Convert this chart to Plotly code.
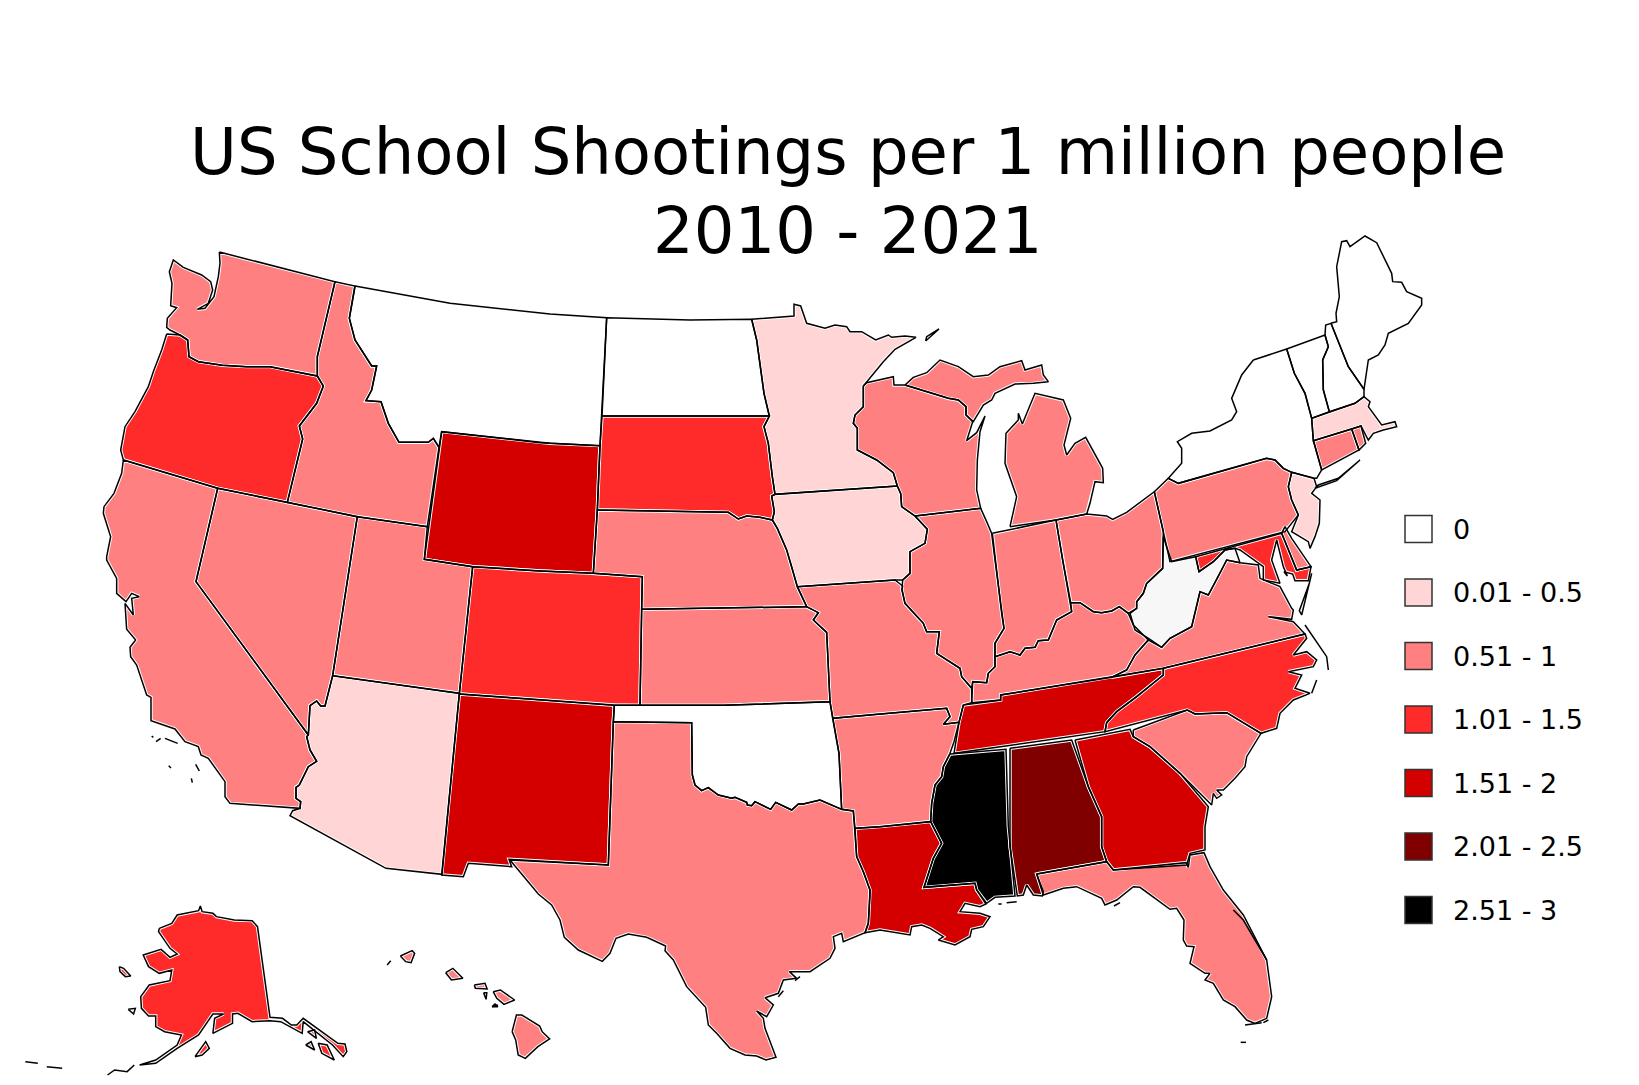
import plotly.graph_objects as go

# the usa topojson comes from the plotly cdn, so the states are drawn as traced outlines
# === DATA ===
states = ["WA", "OR", "CA", "NV", "ID", "MT", "WY", "UT", "AZ", "CO", "NM", "ND", "SD", "NE", "KS", "OK", "TX",
          "MN", "IA", "MO", "AR", "LA", "WI", "IL", "MS", "MI", "IN", "OH", "KY", "TN", "AL", "GA", "FL", "SC",
          "NC", "VA", "WV", "PA", "MD", "DE", "NJ", "NY", "CT", "RI", "MA", "VT", "NH", "ME", "AK", "HI"]
rates = [0.75, 1.25, 0.75, 0.75, 0.75, 0, 1.75, 0.75, 0.25, 1.25, 1.75, 0, 1.25, 0.75, 0.75, 0, 0.75,
         0.25, 0.25, 0.75, 0.75, 1.75, 0.75, 0.75, 2.75, 0.75, 0.75, 0.75, 0.75, 1.75, 2.25, 1.75, 0.75, 0.75,
         1.25, 0.75, None, 0.75, 1.25, 0.75, 0.25, 0, 0.75, 0.75, 0.25, 0, 0, 0, 1.25, 0.75]

bin_labels = ["0", "0.01 - 0.5", "0.51 - 1", "1.01 - 1.5", "1.51 - 2", "2.01 - 2.5", "2.51 - 3"]
bin_tops = [0, 0.5, 1, 1.5, 2, 2.5, 3]
bin_colors = ["#ffffff", "#ffd5d5", "#ff8080", "#ff2a2a", "#d40000", "#800000", "#000000"]
no_data_color = "#f7f7f7"

title_lines = ["US School Shootings per 1 million people", "2010 - 2021"]

# origin and scale of the crops the outlines were traced on
NW = (90, 240, 3, 3)
SW = (90, 560, 3, 3)
NC = (540, 280, 3, 3)
SC = (440, 600, 3, 3)
NE = (960, 230, 3, 3)
SE = (880, 560, 3, 3)
TX = (500, 820, 3, 3)
FL = (880, 780, 3, 3)
MID = (1050, 370, 3, 3)
AKC = (20, 890, 2.8, 3)


def t(crop, pts):
    return [(crop[0] + x / crop[2], crop[1] + y / crop[3]) for x, y in pts]


outlines = {}
outlines["WA"] = [t(NW, [(388, 36), (735, 125), (682, 350), (682, 408), (540, 380), (470, 380), (397, 376), (325, 365),
                         (297, 350), (293, 300), (270, 285), (240, 270), (230, 262), (232, 235), (260, 203), (242, 197),
                         (246, 130), (238, 95), (250, 60), (280, 82), (335, 105), (362, 125), (368, 150), (355, 190),
                         (322, 208), (345, 205), (372, 170), (385, 110), (390, 70)])]
outlines["OR"] = [t(NW, [(230, 282), (270, 285), (293, 300), (297, 350), (325, 365), (397, 376), (470, 380), (540, 380),
                         (682, 408), (700, 438), (680, 490), (628, 558), (638, 597), (592, 787), (383, 745), (100, 660),
                         (92, 630), (105, 560), (135, 515), (175, 440), (190, 395), (215, 330)])]
outlines["ID"] = [t(NW, [(735, 125), (795, 138), (778, 235), (795, 300), (845, 378), (860, 378), (845, 450), (828, 482),
                         (873, 485), (895, 550), (927, 607), (1015, 607), (1030, 595), (1047, 622), (1012, 860),
                         (802, 830), (592, 787), (638, 597), (628, 558), (680, 490), (700, 438), (682, 408), (682, 350)])]
outlines["MT"] = [t(NW, [(795, 138), (1080, 190), (1380, 222)]) + t(NC, [(200, 113), (180, 497), (0, 488)])
                  + t(NW, [(1055, 575), (1047, 622), (1030, 595), (1015, 607), (927, 607), (895, 550), (873, 485),
                           (828, 482), (845, 450), (860, 378), (845, 378), (795, 300), (778, 235)])]
outlines["ND"] = [t(NC, [(200, 113), (450, 120), (635, 118), (650, 180), (672, 340), (688, 408), (186, 408)])]
outlines["SD"] = [t(NC, [(186, 408), (688, 408), (672, 440), (685, 490), (697, 590), (705, 643), (695, 648), (703, 695),
                         (697, 720), (660, 712), (620, 708), (595, 717), (565, 697), (172, 690), (180, 497)])]
outlines["WY"] = [t(NW, [(1055, 575), (1380, 610)]) + t(NC, [(180, 497), (172, 690), (160, 880), (0, 873)])
                  + t(NW, [(1148, 980), (1003, 958)])]
outlines["CO"] = [t(NW, [(1148, 980)]) + t(NC, [(0, 873), (160, 880), (307, 890)])
                  + t(SC, [(605, 28), (600, 316), (520, 315), (58, 282)])]
outlines["NM"] = [t(SC, [(58, 282), (523, 316), (520, 365), (505, 795), (207, 778), (215, 800), (85, 790), (70, 830), (5, 825)])]
outlines["UT"] = [t(NW, [(802, 830), (1012, 860), (1003, 958), (1148, 980)]) + t(SW, [(1108, 400), (728, 347)])]
outlines["NV"] = [t(NW, [(383, 745), (592, 787), (802, 830)])
                  + t(SW, [(728, 347), (705, 438), (692, 438), (680, 423), (660, 437), (655, 525), (318, 65)])]
outlines["AZ"] = [t(SW, [(728, 347), (1108, 400), (1056, 943), (888, 925), (600, 767), (608, 752), (630, 745), (632, 725),
                         (618, 715), (618, 682), (628, 675), (655, 620), (680, 604), (660, 570), (650, 530), (655, 525),
                         (660, 437), (680, 423), (692, 438), (705, 438)])]
outlines["CA"] = [t(NW, [(100, 660), (383, 745)])
                  + t(SW, [(318, 65), (655, 525), (650, 530), (660, 570), (680, 604), (655, 620), (628, 675), (618, 682),
                           (618, 715), (632, 725), (630, 745), (420, 730), (405, 710), (405, 665), (355, 595), (333, 585),
                           (325, 560), (285, 545), (255, 507), (183, 482), (183, 412), (170, 405), (140, 315), (122, 290),
                           (120, 262), (137, 240), (110, 208), (105, 130), (130, 165), (125, 115), (148, 110), (125, 100),
                           (108, 125), (80, 100), (80, 55), (50, 0)])
                  + t(NW, [(50, 950), (62, 890), (40, 820), (42, 800), (72, 760), (95, 700)])]
outlines["MN"] = [t(NC, [(635, 118), (762, 108), (762, 73), (782, 78), (800, 130), (855, 145), (885, 135), (920, 140),
                         (930, 155), (965, 155), (1007, 180), (1045, 165), (1055, 172), (1095, 168), (1128, 172),
                         (1065, 208), (1030, 245), (980, 308), (970, 318), (970, 380), (945, 405), (940, 430), (952, 445),
                         (952, 510), (1010, 540), (1060, 578), (1072, 618), (705, 643), (697, 590), (685, 490), (672, 440),
                         (688, 408), (672, 340), (650, 180)])]
outlines["IA"] = [t(NC, [(695, 648), (705, 643), (1072, 618), (1082, 640), (1085, 680), (1125, 708), (1162, 748), (1155, 790),
                         (1110, 815), (1110, 880), (1088, 900), (1065, 900), (772, 920), (755, 860), (740, 810), (712, 745),
                         (697, 720), (703, 695)])]
outlines["NE"] = [t(NC, [(172, 690), (565, 697), (595, 717), (620, 708), (660, 712), (697, 720), (712, 745), (740, 810),
                         (755, 860), (772, 920)])
                  + t(SC, [(1100, 20), (605, 28)]) + t(NC, [(307, 890), (160, 880)])]
outlines["KS"] = [t(SC, [(605, 28), (1100, 20), (1135, 38), (1120, 60), (1160, 97), (1170, 305), (850, 316), (600, 316)])]
oklahoma_south = [(757, 525), (765, 555), (785, 572), (805, 563), (835, 585), (875, 595), (885, 592), (920, 607), (922, 615),
                  (935, 617), (945, 605), (992, 628), (1007, 607), (1055, 630), (1075, 612), (1090, 612), (1140, 600),
                  (1205, 628)]
outlines["OK"] = [t(SC, [(523, 316), (600, 316), (850, 316), (1170, 305), (1178, 355), (1197, 460)]
                    + oklahoma_south[::-1] + [(755, 368), (520, 365)])]
outlines["TX"] = [t(SC, [(520, 365), (755, 368)] + oklahoma_south + [(1240, 633), (1250, 770), (1270, 815), (1290, 870)])
                  + t(TX, [(1110, 225), (1105, 310), (1095, 338), (1030, 365), (1025, 340), (1000, 350), (1005, 385),
                           (990, 415), (930, 455), (868, 455), (890, 475), (850, 480), (835, 520), (795, 533), (820, 555),
                           (800, 590), (770, 573), (790, 595), (795, 625), (828, 712), (798, 720), (770, 708), (735, 705),
                           (690, 685), (650, 640), (625, 615), (617, 562), (560, 500), (520, 420), (495, 392), (497, 378),
                           (440, 352), (385, 342), (348, 355), (330, 400), (307, 424), (235, 390), (193, 352), (180, 300),
                           (155, 255), (115, 222), (30, 120), (325, 135)])]
outlines["MO"] = [t(NC, [(772, 920), (1065, 900), (1088, 918)])
                  + t(SE, [(66, 90), (75, 130), (130, 190), (140, 215), (178, 215), (170, 280), (240, 325), (245, 350),
                           (275, 385), (275, 428), (250, 435), (237, 487), (190, 493), (210, 470), (200, 445), (0, 462)])
                  + t(SC, [(1178, 355), (1170, 305), (1160, 97), (1120, 60), (1135, 38), (1100, 20)])]
outlines["AR"] = [t(SC, [(1178, 355)])
                  + t(SE, [(0, 462), (200, 445), (210, 470), (190, 493), (237, 487), (222, 545), (210, 580), (190, 620),
                           (185, 650), (165, 675), (155, 730), (152, 785), (0, 800)])
                  + t(SC, [(1245, 685), (1240, 633), (1205, 628), (1197, 460)])]
outlines["LA"] = [t(SC, [(1245, 685)])
                  + t(FL, [(0, 140), (152, 125), (165, 150), (185, 190), (160, 235), (132, 322), (285, 310), (290, 330),
                           (318, 372), (300, 380), (255, 370), (240, 395), (300, 400), (330, 410), (310, 440), (275, 448),
                           (270, 470), (225, 495), (175, 480), (190, 470), (150, 445), (125, 435), (95, 440), (90, 465),
                           (0, 450)])
                  + t(TX, [(1095, 338), (1105, 310), (1110, 225)]) + t(SC, [(1290, 870), (1270, 815), (1250, 770)])]
outlines["MS"] = [t(SE, [(210, 582), (378, 568), (385, 800)])
                  + t(FL, [(405, 348), (345, 352), (320, 370), (290, 330), (285, 310), (132, 322), (160, 235), (185, 190),
                           (165, 150), (152, 125)])
                  + t(SE, [(155, 730), (165, 675), (185, 650), (190, 620)])]
outlines["AL"] = [t(SE, [(390, 565), (575, 540), (625, 680), (665, 770), (665, 860), (680, 905)])
                  + t(FL, [(470, 282), (490, 335), (487, 348), (460, 345), (440, 315), (430, 345), (412, 348), (390, 200)])
                  + t(SE, [(390, 800)])]
outlines["GA"] = [t(SE, [(585, 540), (750, 508), (760, 530), (810, 560), (900, 640), (985, 740), (975, 800), (975, 870),
                         (930, 880), (920, 915), (700, 930), (680, 905), (665, 860), (665, 770), (625, 680)])]
outlines["FL"] = [t(FL, [(470, 282), (680, 245), (700, 270), (918, 248), (925, 262), (930, 225), (972, 218), (990, 260),
                         (1030, 330), (1090, 405), (1160, 540), (1175, 650), (1160, 715), (1125, 730), (1100, 720),
                         (1065, 680), (1030, 660), (1000, 610), (975, 600), (990, 580), (975, 580), (930, 550), (942, 500),
                         (920, 498), (910, 480), (912, 420), (890, 385), (870, 388), (780, 322), (760, 320), (710, 360),
                         (675, 375), (665, 355), (590, 320), (550, 325), (490, 345)])]
outlines["SC"] = [t(SE, [(760, 510), (922, 450), (945, 462), (1040, 458), (1143, 520), (1100, 590), (1095, 620), (1065, 655),
                         (1030, 690), (1010, 690), (1025, 705), (1010, 715), (1000, 700), (995, 735), (900, 640), (810, 560),
                         (760, 530)])]
outlines["NC"] = [t(SE, [(850, 325), (1275, 222), (1280, 235), (1240, 285), (1280, 275), (1310, 300), (1300, 320), (1225, 335),
                         (1265, 345), (1245, 385), (1290, 400), (1240, 420), (1200, 460), (1190, 505), (1143, 520),
                         (1040, 458), (945, 462), (922, 450), (675, 515), (680, 488), (710, 455), (770, 410), (850, 345)])]
outlines["TN"] = [t(SE, [(250, 435), (362, 420), (362, 405), (690, 352), (850, 325), (850, 345), (770, 410), (710, 455),
                         (680, 488), (675, 515), (222, 580), (237, 487)])]
outlines["KY"] = [t(SE, [(278, 365), (320, 368), (325, 340), (345, 320), (345, 290), (390, 275), (420, 285), (435, 265),
                         (465, 262), (475, 242), (505, 240), (530, 180), (575, 155), (572, 128), (600, 128), (640, 155),
                         (665, 158), (695, 153), (718, 140), (745, 160), (760, 195), (805, 240), (765, 285), (740, 330),
                         (695, 352), (362, 405), (362, 420), (275, 428)])]
outlines["IL"] = [t(NC, [(1125, 708), (1322, 685), (1340, 725), (1355, 760)])
                  + t(SE, [(345, 0), (365, 160), (372, 205), (345, 250), (345, 320), (325, 340), (320, 368), (278, 365),
                           (275, 385), (245, 350), (240, 325), (170, 280), (178, 215), (140, 215), (130, 190), (75, 130),
                           (66, 90)])
                  + t(NC, [(1088, 900), (1110, 880), (1110, 815), (1155, 790), (1162, 748)])]
outlines["IN"] = [t(NE, [(97, 910), (288, 870)])
                  + t(SE, [(548, 0), (572, 128), (575, 155), (530, 180), (505, 240), (475, 242), (465, 262), (435, 265),
                           (420, 285), (390, 275), (345, 290), (345, 250), (372, 205), (365, 160), (345, 0)])]
outlines["OH"] = [t(NE, [(288, 870), (380, 852), (440, 858), (458, 868), (500, 847), (583, 785), (610, 905)])
                  + t(SE, [(848, 25), (800, 70), (790, 100), (770, 125), (770, 145), (745, 160), (718, 140), (695, 153),
                           (665, 158), (640, 155), (600, 128), (572, 128), (548, 0)])]
outlines["MI"] = [t(NE, [(150, 890), (170, 800), (135, 700), (138, 610), (175, 570), (175, 550), (187, 582), (225, 490),
                         (310, 510), (332, 565), (312, 645), (320, 675), (345, 640), (377, 622), (428, 715), (430, 758),
                         (405, 755), (390, 820), (380, 852), (288, 870)]),
                  t(NC, [(1095, 315), (1120, 292), (1160, 278), (1200, 240), (1255, 260), (1300, 290)])
                  + t(NE, [(85, 435), (120, 410), (185, 392), (195, 420), (245, 405), (250, 435), (265, 455), (220, 460),
                           (165, 462), (105, 490), (95, 510), (70, 525), (40, 575)])
                  + t(NC, [(1278, 405), (1278, 380), (1255, 360), (1225, 355)])]
outlines["WI"] = [t(NC, [(970, 318), (980, 308), (1060, 290), (1062, 315), (1095, 315), (1225, 355), (1255, 360), (1278, 380),
                         (1278, 405), (1298, 425), (1280, 482), (1310, 458), (1335, 408), (1320, 455), (1312, 540),
                         (1310, 630), (1322, 685), (1125, 708), (1085, 680), (1082, 640), (1072, 618), (1060, 578),
                         (1010, 540), (952, 510), (952, 445), (940, 430), (945, 405), (970, 380)])]
outlines["PA"] = [t(NE, [(625, 745), (655, 760), (920, 685), (945, 690), (970, 715), (995, 727), (985, 770), (995, 810),
                         (1015, 855), (975, 905), (630, 995), (583, 785)])]
outlines["NY"] = [t(NE, [(880, 390), (980, 357), (1003, 430), (1035, 490), (1055, 565), (1060, 630), (1085, 720), (1070, 745),
                         (1062, 745), (995, 727), (970, 715), (945, 690), (920, 685), (655, 760), (625, 745), (665, 700),
                         (665, 655), (652, 635), (695, 610), (750, 603), (815, 570), (830, 545), (815, 505), (845, 435)]),
                  t(NE, [(1065, 775), (1130, 752), (1200, 690), (1135, 745), (1075, 765)])]
outlines["NJ"] = [t(NE, [(995, 727), (1062, 745), (1070, 770), (1055, 790), (1080, 810), (1078, 880), (1065, 920), (1050, 955),
                         (1045, 935), (995, 905), (1015, 855), (995, 810), (985, 770)])]
outlines["CT"] = [t(NE, [(1060, 632), (1175, 597), (1197, 660), (1085, 720)])]
outlines["RI"] = [t(NE, [(1175, 597), (1203, 588), (1217, 640), (1197, 660)])]
outlines["MA"] = [t(NE, [(1055, 565), (1185, 520), (1212, 500), (1230, 515), (1225, 530), (1265, 585), (1305, 575), (1310, 590),
                         (1270, 600), (1240, 610), (1225, 630), (1203, 588), (1175, 597), (1060, 632)])]
outlines["VT"] = [t(NE, [(980, 357), (1095, 315), (1105, 350), (1088, 390), (1090, 480), (1108, 545), (1055, 565), (1035, 490),
                         (1003, 430)])]
outlines["NH"] = [t(NE, [(1095, 315), (1097, 285), (1113, 280), (1165, 410), (1212, 478), (1212, 500), (1185, 520), (1108, 545),
                         (1090, 480), (1088, 390), (1105, 350)])]
outlines["ME"] = [t(NE, [(1113, 280), (1130, 275), (1128, 250), (1138, 200), (1130, 110), (1145, 35), (1160, 32), (1170, 50),
                         (1215, 18), (1250, 38), (1295, 130), (1298, 155), (1325, 157), (1340, 185), (1385, 205), (1385, 225),
                         (1345, 280), (1315, 295), (1285, 310), (1275, 345), (1255, 375), (1225, 390), (1212, 478), (1165, 410)])]
outlines["WV"] = [t(MID, [(340, 500), (365, 575), (437, 560), (447, 605), (490, 575), (525, 540), (555, 535), (570, 578),
                          (530, 570), (515, 600)])
                  + t(SE, [(985, 105), (960, 95), (935, 200), (870, 235), (845, 262), (810, 238), (765, 210), (750, 160),
                           (770, 145), (770, 125), (790, 100), (800, 70), (848, 25)])]
outlines["MD"] = [t(MID, [(437, 560), (695, 490), (740, 600), (783, 590), (775, 632), (735, 632), (728, 612), (702, 605),
                          (712, 618), (700, 590), (680, 510), (665, 570), (690, 640), (640, 630), (640, 590), (570, 540),
                          (555, 535), (525, 540), (490, 575), (447, 605)])]
outlines["DE"] = [t(MID, [(695, 490), (705, 470), (725, 505), (775, 575), (783, 590), (740, 600)])]
outlines["VA"] = [t(SE, [(985, 105)])
                  + t(MID, [(515, 600), (530, 570), (570, 578), (625, 585), (630, 625), (690, 650), (725, 715)])
                  + t(SE, [(1240, 150), (1235, 178), (1165, 170), (1240, 185), (1275, 222), (850, 325), (695, 352), (740, 330),
                           (765, 285), (805, 240), (845, 262), (870, 235), (935, 200), (960, 95)]),
                  t(MID, [(778, 640), (748, 722), (755, 735), (785, 610)])]
outlines["AK"] = [t(AKC, [(390, 115), (425, 100), (440, 75), (500, 62), (505, 48), (510, 65), (540, 70), (550, 80), (600, 90),
                          (650, 92), (665, 110), (700, 382), (735, 385), (760, 405), (775, 405), (793, 385), (890, 460),
                          (910, 462), (915, 485), (905, 500), (875, 465), (835, 430), (793, 395), (790, 430), (730, 395),
                          (700, 392), (650, 395), (610, 370), (595, 372), (595, 400), (540, 430), (545, 385), (570, 372),
                          (540, 372), (505, 425), (500, 435), (440, 475), (380, 520), (335, 525), (380, 510), (440, 465),
                          (452, 435), (405, 425), (380, 410), (380, 378), (360, 378), (340, 355), (338, 320), (362, 285),
                          (420, 272), (425, 240), (390, 250), (360, 230), (345, 195), (395, 178), (420, 202), (440, 192),
                          (420, 175), (388, 125)]),
                  t(AKC, [(278, 230), (290, 235), (310, 258), (295, 260), (280, 245)]),
                  t(AKC, [(303, 358), (323, 355), (318, 372)]),
                  t(AKC, [(490, 500), (520, 455), (530, 475), (510, 495)]),
                  t(AKC, [(805, 425), (825, 420), (830, 445)]),
                  t(AKC, [(800, 465), (815, 455), (825, 480)]),
                  t(AKC, [(835, 460), (860, 465), (880, 510), (845, 490)])]
outlines["HI"] = [t(AKC, [(1065, 198), (1098, 182), (1105, 190), (1095, 218), (1080, 215)]),
                  t(AKC, [(1192, 248), (1212, 235), (1240, 265), (1208, 270)]),
                  t(AKC, [(1272, 285), (1302, 280), (1308, 297), (1275, 295)]),
                  t(AKC, [(1298, 308), (1307, 308), (1305, 328)]),
                  t(AKC, [(1325, 305), (1345, 300), (1385, 330), (1355, 343), (1335, 325)]),
                  t(AKC, [(1322, 350), (1330, 342), (1338, 350)]),
                  t(AKC, [(1378, 425), (1390, 375), (1405, 375), (1455, 408), (1462, 425), (1483, 447), (1450, 470),
                          (1415, 505), (1395, 495), (1388, 450)])]

# small islands and sand bars, too thin to fill
islets = [t(SW, [(185, 528), (190, 532)]), t(SW, [(198, 545), (212, 535)]), t(SW, [(225, 535), (263, 550)]),
          t(SW, [(236, 617), (243, 624)]), t(SW, [(317, 613), (328, 633)]), t(SW, [(304, 655), (307, 668)]),
          t(NC, [(1157, 183), (1197, 147), (1160, 170), (1157, 183)]),
          t(TX, [(885, 482), (900, 470)]), t(TX, [(835, 530), (850, 512)]),
          t(FL, [(380, 368), (410, 365)]), t(FL, [(355, 372), (365, 372)]), t(FL, [(702, 378), (720, 368)]),
          t(FL, [(1095, 735), (1145, 728)]), t(FL, [(1082, 787), (1098, 787)]), t(FL, [(1150, 728), (1165, 720)]),
          t(FL, [(1060, 390), (1090, 420), (1160, 540)]),
          t(SE, [(1275, 195), (1340, 290), (1345, 330)]), t(SE, [(1295, 400), (1310, 360)]),
          t(AKC, [(245, 555), (265, 540), (300, 545), (320, 525)]), t(AKC, [(15, 515), (50, 520)]),
          t(AKC, [(75, 530), (118, 535)]), t(AKC, [(1028, 225), (1038, 212)]), t(AKC, [(1322, 350), (1338, 345)])]


def state_color(rate):
    if rate is None:
        return no_data_color
    for top, color in zip(bin_tops, bin_colors):
        if rate <= top:
            return color


def join_parts(parts):
    xs, ys = [], []
    for part in parts:
        xs += [p[0] for p in part] + [part[0][0], None]
        ys += [p[1] for p in part] + [part[0][1], None]
    return xs, ys


fig = go.Figure()

# fills first with a white edge, black borders go on top of all of them
for state, rate in zip(states, rates):
    xs, ys = join_parts(outlines[state])
    fig.add_trace(go.Scatter(x=xs, y=ys, mode="lines", fill="toself", fillcolor=state_color(rate),
                             line=dict(color="white", width=3.4), name=state, showlegend=False, hoverinfo="name"))
for state in states:
    xs, ys = join_parts(outlines[state])
    fig.add_trace(go.Scatter(x=xs, y=ys, mode="lines", line=dict(color="black", width=1.5),
                             showlegend=False, hoverinfo="skip"))
for islet in islets:
    fig.add_trace(go.Scatter(x=[p[0] for p in islet], y=[p[1] for p in islet], mode="lines",
                             line=dict(color="black", width=1.5), showlegend=False, hoverinfo="skip"))

# plotly caps legend markers at 16px, so the key is drawn as its own traces
key_y = [529 + 63.5 * i for i in range(len(bin_labels))]
fig.add_trace(go.Scatter(x=[1418.5] * len(bin_labels), y=key_y, mode="markers", showlegend=False, hoverinfo="skip",
                         marker=dict(symbol="square", size=27, color=bin_colors, line=dict(color="#333333", width=1.5))))
fig.add_trace(go.Scatter(x=[1453] * len(bin_labels), y=[y + 3 for y in key_y], mode="text", text=bin_labels,
                         textposition="middle right", textfont=dict(family="DejaVu Sans", size=27, color="black"),
                         showlegend=False, hoverinfo="skip"))

# the page body has an 8px margin, so the plot area is 1623x1069 starting at 8,8
fig.update_layout(
    width=1623, height=1069,
    margin=dict(l=0, r=0, t=0, b=0),
    paper_bgcolor="white", plot_bgcolor="white",
    font=dict(family="DejaVu Sans", color="black"),
    title=dict(text=title_lines[0], x=0.5176, xanchor="center", y=0.866, yanchor="middle",
               font=dict(family="DejaVu Sans", size=64, color="black")),
    annotations=[dict(text=title_lines[1], x=848, y=231, xref="x", yref="y", xanchor="center", yanchor="middle",
                      showarrow=False, font=dict(family="DejaVu Sans", size=64, color="black"))],
    xaxis=dict(range=[8, 1631], visible=False),
    yaxis=dict(range=[1077, 8], visible=False),
    showlegend=False,
)

fig.write_html("out.html")
